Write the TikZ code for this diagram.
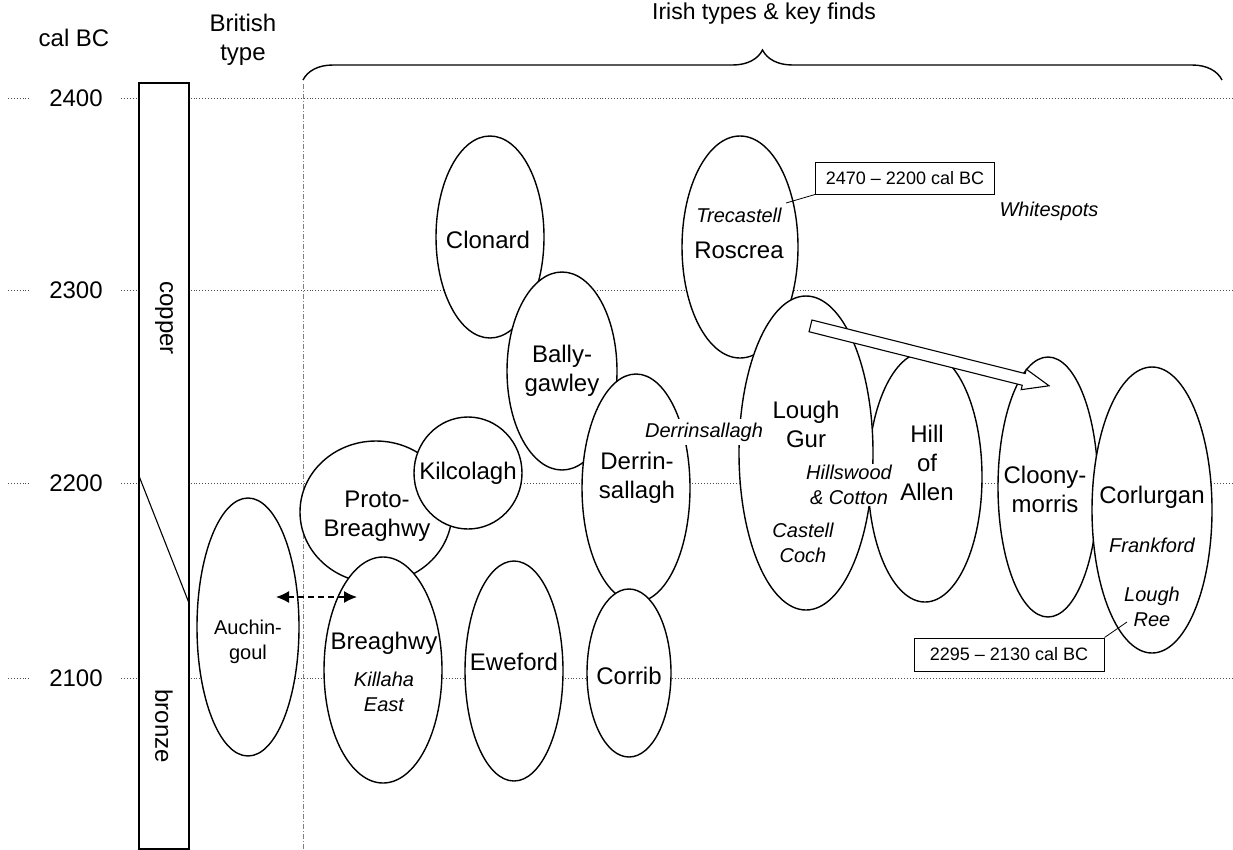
\documentclass[tikz,border=0pt]{standalone}
\usepackage{fontspec}
\setmainfont{Liberation Sans}
\usetikzlibrary{shapes.geometric,shapes.arrows,decorations.pathreplacing,arrows.meta}

\begin{document}
\begin{tikzpicture}[x=1pt,y=-1pt,
    blob/.style 2 args={ellipse,draw,fill=white,line width=1.4pt,inner sep=0pt,minimum width=#1pt,minimum height=#2pt},
    typelab/.style={font=\fontsize{24}{29}\selectfont,align=center,inner sep=1pt},
    findlab/.style={font=\fontsize{20}{25}\selectfont\itshape,align=center,inner sep=1pt},
    timeline/.style={dotted,line width=0.9pt,gray!60!black},
    datebox/.style={draw,line width=1pt,fill=white,inner sep=0pt,font=\fontsize{18}{22}\selectfont}]
  \useasboundingbox (0,0) rectangle (1233,849);
  % date lines
  \foreach \y/\yr in {98/2400,290/2300,483/2200,678/2100}{
    \draw[timeline] (8,\y) -- (30,\y); \draw[timeline] (121,\y) -- (1233,\y);
    \node[typelab] (y\yr) at (76,\y) {\yr};}
  \draw[gray,line width=0.6pt,dash pattern=on 5pt off 2pt on 1pt off 2pt] (303,84) -- (303,849);
  % copper / bronze bar
  \node[draw,fill=white,line width=1.4pt,inner sep=0pt,minimum width=50pt,minimum height=766pt] (bar) at (164,466) {};
  \draw[line width=1.1pt] (139,476) -- (189,603);
  \node[typelab,rotate=-90] (copper) at (164,318) {copper};
  \node[typelab,rotate=-90] (bronze) at (164,726) {bronze};
  % headers
  \node[typelab] (calbc) at (74,38) {cal BC};
  \node[typelab] (british) at (243,40) {British\\type};
  \node[font=\fontsize{23}{27}\selectfont] (irish) at (764,14) {Irish types \& key finds};
  \draw[decorate,decoration={brace,amplitude=30pt},line width=1.4pt] (303,80) -- (1222,80);
  % types
  \node[blob={108}{202}] (clonard) at (490,237) {};
  \node[blob={110}{198}] (bally) at (562,371) {};
  \node[blob={108}{228}] (derrin) at (636,488) {};
  \node[blob={116}{222}] (roscrea) at (740,247) {};
  \node[blob={114}{250}] (allen) at (925,477) {};
  \node[blob={134}{314}] (loughgur) at (806,453) {};
  \node[blob={100}{260}] (cloony) at (1048,487) {};
  \node[blob={120}{286}] (corlurgan) at (1152,510) {};
  \node[blob={152}{142}] (proto) at (376,512) {};
  \node[blob={108}{112}] (kilcolagh) at (468,473) {};
  \node[blob={118}{226}] (breaghwy) at (383,670) {};
  \node[blob={102}{258}] (auchin) at (248,627) {};
  \node[blob={98}{220}] (eweford) at (514,671) {};
  \node[blob={84}{168}] (corrib) at (629,673) {};
  % names and finds
  \node[typelab] (clonardT) at (488,240) {Clonard};
  \node[typelab] (ballyT) at (562,371) {Bally-\\gawley};
  \node[typelab] (derrinT) at (637,478) {Derrin-\\sallagh};
  \node[findlab] (trecastell) at (739,215) {Trecastell};
  \node[typelab] (roscreaT) at (739,250) {Roscrea};
  \node[findlab] (whitespots) at (1049,211) {Whitespots};
  \node[findlab,fill=white,inner ysep=4pt] (derrinF) at (704,432) {Derrinsallagh};
  \node[typelab] (loughgurT) at (806,424) {Lough\\Gur};
  \node[findlab,fill=white] (hillswood) at (849,485) {Hillswood\\\& Cotton};
  \node[findlab] (castell) at (803,543) {Castell\\Coch};
  \node[typelab] (allenT) at (927,463) {Hill\\of\\Allen};
  \node[typelab] (cloonyT) at (1045,489) {Cloony-\\morris};
  \node[typelab] (corlurganT) at (1152,497) {Corlurgan};
  \node[findlab] (frankford) at (1152,545) {Frankford};
  \node[findlab] (loughree) at (1152,607) {Lough\\Ree};
  \node[typelab] (protoT) at (377,516) {Proto-\\Breaghwy};
  \node[typelab] (kilcolaghT) at (468,473) {Kilcolagh};
  \node[typelab] (breaghwyT) at (384,643) {Breaghwy};
  \node[findlab] (killaha) at (384,692) {Killaha\\East};
  \node[font=\fontsize{20}{25}\selectfont,align=center] (auchinT) at (248,642) {Auchin-\\goul};
  \node[typelab] (ewefordT) at (514,662) {Eweford};
  \node[typelab] (corribT) at (629,676) {Corrib};
  % spread towards the west
  \node[single arrow,draw,fill=white,line width=1.1pt,inner xsep=0pt,inner ysep=5.5pt,minimum height=246pt,
        single arrow head extend=4.5pt,single arrow tip angle=44,rotate=-14.1] (spread) at (922.5,354) {};
  \coordinate (auchinR) at (276,597); \coordinate (breaghwyL) at (357,597);
  \draw[{Latex[length=13pt,width=12pt]}-{Latex[length=13pt,width=12pt]},dash pattern=on 6pt off 4pt,line width=1.4pt] (auchinR) -- (breaghwyL);
  % radiocarbon ranges
  \node[datebox,minimum width=179pt,minimum height=32pt] (date1) at (905,178) {2470 -- 2200 cal BC};
  \coordinate (pin1) at (786,203);
  \draw[line width=0.8pt] (date1.south west) -- (pin1);
  \node[datebox,minimum width=190pt,minimum height=33pt] (date2) at (1009,654.5) {2295 -- 2130 cal BC};
  \coordinate (pin2) at (1127,622);
  \draw[line width=0.8pt] (date2.north east) -- (pin2);
\end{tikzpicture}
\end{document}
